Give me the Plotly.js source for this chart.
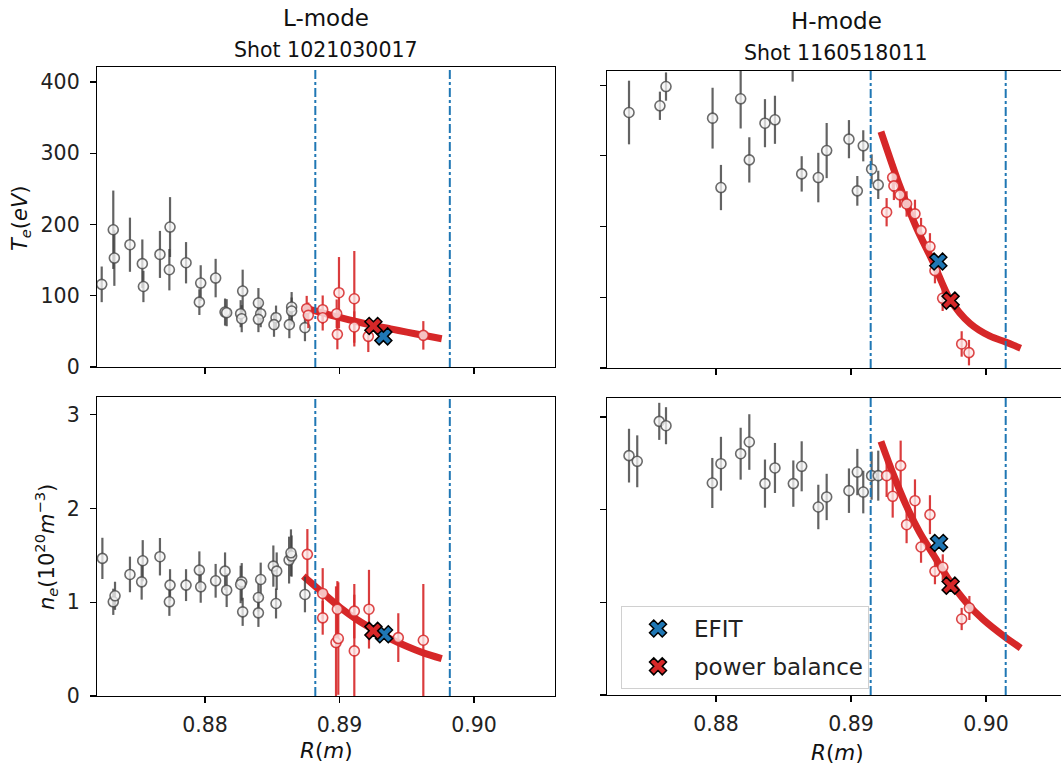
<!DOCTYPE html>
<html>
<head>
<meta charset="utf-8">
<script src="https://cdn.plot.ly/plotly-3.0.1.min.js"></script>
<style>html,body{margin:0;padding:0;background:#fff;}#chart{width:1061px;height:767px;}</style>
</head>
<body>
<div id="chart"></div>
<script>
// ---------- L-mode, Te ----------
var lTeGrayR   = [0.87232,0.87318,0.87326,0.87442,0.87534,0.87542,0.87665,0.8774,0.87735,0.87859,0.87968,0.87958,0.88079,0.88149,0.88161,0.8828,0.88265,0.88273,0.88397,0.88414,0.88397,0.88528,0.88513,0.88644,0.88644,0.88627,0.88743];
var lTeGrayV   = [116,192.6,152.9,171.6,145,113,158,196.4,136.5,146.3,117.8,91,124.8,77.1,76.2,106.6,74.8,67.8,89.8,74.8,66.9,69.2,59.4,84.2,78.5,59.4,55.2];
var lTeGrayE   = [25,55,39,38,34,22,33,42,29,29,25,18,27,19,19,30,19,19,21,19,18,17,17,21,19,19,19];
var lTeRedR    = [0.88756,0.88768,0.88875,0.88875,0.88996,0.88979,0.88984,0.8911,0.8911,0.89214,0.89623];
var lTeRedV    = [81.8,72.5,80.4,69.2,104.3,74.8,45.8,95.8,56.1,43,44.4];
var lTeRedE    = [18,18,20,18,50,20,21,67,22,22,20];
var lTeFitR    = [0.8873,0.8888,0.8900,0.8913,0.8925,0.8938,0.8950,0.8962,0.8976];
var lTeFitV    = [83.2,75.5,69.5,63.5,58.4,53.5,49,44.5,39.7];
var lTeEfit    = [0.89326, 43];
var lTePB      = [0.89252, 57.5];

// ---------- H-mode, Te ----------
var hTeGrayR   = [0.87356,0.87585,0.8763,0.87975,0.88037,0.88183,0.88247,0.88363,0.88437,0.88568,0.88635,0.88758,0.8882,0.88985,0.89047,0.89091,0.89153,0.89202];
var hTeGrayV   = [361.3,370.8,398,353.3,255.2,380.7,294.3,346.2,351,432,274.5,269.3,307.5,323.6,250.5,314.2,281.1,259];
var hTeGrayE   = [45,20,20,43,32,42,32,34,34,27,25,35,39,27,21,22,21,20];
var hTeRedR    = [0.89264,0.89309,0.89318,0.89363,0.89412,0.89474,0.89519,0.89585,0.89622,0.89679,0.8982,0.89874];
var hTeRedV    = [220.3,269.3,257.5,244.8,232,218,194.3,171.7,137.7,98.6,34,21.7];
var hTeRedE    = [20,20,20,18,18,20,18,19,18,18,18,18];
var hTeFitR    = [0.89222,0.89363,0.89486,0.8961,0.89733,0.89881,0.9003,0.90141,0.90257];
var hTeFitV    = [334.4,256.6,198,149,97.2,63.2,45,37,28];
var hTeEfit    = [0.89647, 150.5];
var hTePB      = [0.89738, 95.3];

// ---------- L-mode, ne ----------
var lNeGrayR   = [0.87237,0.87318,0.87331,0.87442,0.87537,0.87529,0.87665,0.8774,0.87735,0.87859,0.87958,0.87968,0.88079,0.88149,0.88161,0.88273,0.88265,0.8828,0.88414,0.88397,0.88397,0.88508,0.88533,0.88528,0.88625,0.88644,0.88639,0.88743];
var lNeGrayV   = [1.468,1.005,1.069,1.297,1.443,1.218,1.486,1.183,1.005,1.183,1.343,1.165,1.229,1.332,1.129,1.218,1.19,0.898,1.243,1.051,0.887,1.386,1.332,0.987,1.45,1.493,1.528,1.083];
var lNeGrayE   = [0.22,0.14,0.15,0.19,0.22,0.19,0.2,0.17,0.15,0.17,0.2,0.17,0.18,0.2,0.18,0.2,0.2,0.15,0.18,0.15,0.15,0.22,0.2,0.16,0.25,0.22,0.25,0.19];
var lNeRedR    = [0.88761,0.88875,0.88875,0.88984,0.88974,0.88991,0.8911,0.8911,0.89219,0.89437,0.89623];
var lNeRedV    = [1.511,1.094,0.834,0.926,0.57,0.613,0.905,0.481,0.926,0.623,0.595];
var lNeRedE    = [0.27,0.27,0.18,0.3,0.6,0.6,0.29,0.6,0.42,0.26,0.6];
var lNeFitR    = [0.88731,0.8888,0.89004,0.89128,0.89252,0.89375,0.89499,0.89623,0.8976];
var lNeFitV    = [1.279,1.094,0.944,0.816,0.709,0.613,0.531,0.46,0.399];
var lNeEfit    = [0.89331, 0.659];
var lNePB      = [0.89252, 0.695];

// ---------- H-mode, ne ----------
var hNeGrayR   = [0.87356,0.87417,0.8758,0.8763,0.87973,0.88037,0.88183,0.88247,0.88363,0.88437,0.88573,0.88635,0.88758,0.8882,0.88985,0.89047,0.89091,0.89153,0.89202];
var hNeGrayV   = [2.583,2.522,2.953,2.906,2.288,2.496,2.604,2.73,2.281,2.45,2.281,2.468,2.029,2.137,2.205,2.406,2.19,2.367,2.367];
var hNeGrayE   = [0.29,0.28,0.2,0.2,0.27,0.29,0.28,0.3,0.26,0.27,0.25,0.27,0.24,0.25,0.24,0.25,0.23,0.26,0.27];
var hNeRedR    = [0.89264,0.89309,0.89368,0.89412,0.89474,0.89519,0.89585,0.89622,0.8968,0.8982,0.89877];
var hNeRedV    = [2.367,2.144,2.475,1.838,2.097,1.597,1.946,1.335,1.378,0.82,0.939];
var hNeRedE    = [0.23,0.23,0.27,0.2,0.23,0.17,0.21,0.14,0.14,0.12,0.13];
var hNeFitR    = [0.89222,0.89314,0.89412,0.89511,0.8961,0.89733,0.89857,0.8998,0.90141,0.90257];
var hNeFitV    = [2.737,2.378,2.036,1.748,1.514,1.227,0.993,0.813,0.626,0.507];
var hNeEfit    = [0.89652, 1.64];
var hNePB      = [0.89738, 1.18];

// separatrix-window lines
var lVlines = [0.8882, 0.8982];
var hVlines = [0.89146, 0.90146];

var xTicks = [0.88, 0.89, 0.90];
var teTicks = [0, 100, 200, 300, 400];
var neTicks = [0, 1, 2, 3];

var RED = '#d62728', BLUE = '#1f77b4';
var W = 1061, H = 767;
function px(x){return x/W;}
function py(y){return 1 - y/H;}

var traces = [];
function panel(xa, ya, gR, gV, gE, rR, rV, rE, fR, fV, efit, pb, showLeg){
  traces.push({x:fR, y:fV, xaxis:xa, yaxis:ya, type:'scatter', mode:'lines',
    line:{color:RED, width:7, shape:'spline', smoothing:0.8}, showlegend:false, hoverinfo:'skip'});
  traces.push({x:gR, y:gV, xaxis:xa, yaxis:ya, type:'scatter', mode:'markers',
    error_y:{type:'data', array:gE, visible:true, color:'rgba(60,60,60,0.8)', thickness:2.2, width:0},
    marker:{symbol:'circle', size:10, color:'rgba(245,245,245,0.75)', line:{color:'rgba(70,70,70,0.8)', width:1.6}},
    showlegend:false});
  traces.push({x:rR, y:rV, xaxis:xa, yaxis:ya, type:'scatter', mode:'markers',
    error_y:{type:'data', array:rE, visible:true, color:'rgba(214,39,40,0.9)', thickness:2.2, width:0},
    marker:{symbol:'circle', size:10, color:'rgba(252,232,232,0.8)', line:{color:'rgba(214,39,40,0.85)', width:1.6}},
    showlegend:false});
  traces.push({x:[efit[0]], y:[efit[1]], xaxis:xa, yaxis:ya, type:'scatter', mode:'markers', name:'EFIT',
    legendgroup:'a', marker:{symbol:'x', size:15, color:BLUE, line:{color:'#000', width:1.5}}, showlegend:showLeg});
  traces.push({x:[pb[0]], y:[pb[1]], xaxis:xa, yaxis:ya, type:'scatter', mode:'markers', name:'power balance',
    legendgroup:'b', marker:{symbol:'x', size:15, color:RED, line:{color:'#000', width:1.5}}, showlegend:showLeg});
}
panel('x','y', lTeGrayR,lTeGrayV,lTeGrayE, lTeRedR,lTeRedV,lTeRedE, lTeFitR,lTeFitV, lTeEfit,lTePB,false);
panel('x2','y2', hTeGrayR,hTeGrayV,hTeGrayE, hTeRedR,hTeRedV,hTeRedE, hTeFitR,hTeFitV, hTeEfit,hTePB,false);
panel('x3','y3', lNeGrayR,lNeGrayV,lNeGrayE, lNeRedR,lNeRedV,lNeRedE, lNeFitR,lNeFitV, lNeEfit,lNePB,false);
panel('x4','y4', hNeGrayR,hNeGrayV,hNeGrayE, hNeRedR,hNeRedV,hNeRedE, hNeFitR,hNeFitV, hNeEfit,hNePB,true);

var FONT = 'DejaVu Sans, sans-serif';
function xax(dom, rng, labels, anchor){
  return {domain:dom, range:rng, anchor:anchor, tickvals:xTicks, ticktext:xTicks.map(function(v){return v.toFixed(2);}),
    showticklabels:labels, ticks:'outside', ticklen:6, tickwidth:1.2, tickcolor:'#000',
    showline:true, mirror:true, linecolor:'#000', linewidth:1.2, showgrid:false, zeroline:false,
    tickfont:{family:FONT, size:20.5, color:'#222'}, ticklabelstandoff:4};
}
function yax(dom, rng, tv, labels, anchor, mir){
  return {domain:dom, range:rng, anchor:anchor, tickvals:tv, showticklabels:labels,
    ticks:'outside', ticklen:6, tickwidth:1.2, tickcolor:'#000',
    showline:true, mirror:mir, linecolor:'#000', linewidth:1.2, showgrid:false, zeroline:false,
    tickfont:{family:FONT, size:20.5, color:'#222'}, ticklabelstandoff:6};
}
var lDom = [px(97), px(555)], rDom = [px(607), 1];
var lRng = [0.87197, 0.90602], rRng = [0.87193, 0.905556];

var shapes = [];
function vl(xref, yref, v){
  shapes.push({type:'line', xref:xref, yref:yref+' domain', x0:v, x1:v, y0:0, y1:1,
    line:{color:BLUE, width:2, dash:'dashdot'}});
}
lVlines.forEach(function(v){vl('x','y',v); vl('x3','y3',v);});
hVlines.forEach(function(v){vl('x2','y2',v); vl('x4','y4',v);});

function ann(text, x, y, size, angle){
  return {text:text, xref:'paper', yref:'paper', x:px(x), y:py(y), xanchor:'center', yanchor:'middle',
    showarrow:false, textangle:angle||0, font:{family:FONT, size:size, color:'#111'}};
}
var annotations = [
  ann('L-mode', 326, 18, 23),
  ann('Shot 1021030017', 326, 50, 20.5),
  ann('H-mode', 836, 21, 23),
  ann('Shot 1160518011', 836, 53, 20.5),
  ann('<i>T</i><sub><i>e</i></sub>(<i>eV</i>)', 21, 218, 21, -90),
  ann('<i>n</i><sub><i>e</i></sub>(10<sup>20</sup><i>m</i><sup>−3</sup>)', 46, 547, 21, -90),
  ann('<i>R</i>(<i>m</i>)', 326, 750, 21.5),
  ann('<i>R</i>(<i>m</i>)', 837, 752, 21.5)
];

var layout = {
  width:W, height:H, margin:{l:0,r:0,t:0,b:0}, paper_bgcolor:'#fff', plot_bgcolor:'#fff',
  font:{family:FONT, color:'#222'},
  xaxis: xax(lDom, lRng, false, 'y'),
  yaxis: yax([py(367), py(67)], [0, 421], teTicks, true, 'x', true),
  xaxis2: xax(rDom, rRng, false, 'y2'),
  yaxis2: yax([py(368), py(71)], [0, 420], teTicks, false, 'x2', false),
  xaxis3: xax(lDom, lRng, true, 'y3'),
  yaxis3: yax([py(696), py(397)], [0, 3.19], neTicks, true, 'x3', true),
  xaxis4: xax(rDom, rRng, true, 'y4'),
  yaxis4: yax([py(695), py(398)], [0, 3.205], neTicks, false, 'x4', false),
  shapes: shapes,
  annotations: annotations,
  showlegend:true,
  legend:{x:px(621), y:py(606), xanchor:'left', yanchor:'top', bgcolor:'rgba(255,255,255,0.8)',
    bordercolor:'#d0d0d0', borderwidth:1, font:{family:FONT, size:23, color:'#222'},
    itemwidth:62, traceorder:'grouped', tracegroupgap:5}
};
Plotly.newPlot('chart', traces, layout, {staticPlot:true});
</script>
</body>
</html>
